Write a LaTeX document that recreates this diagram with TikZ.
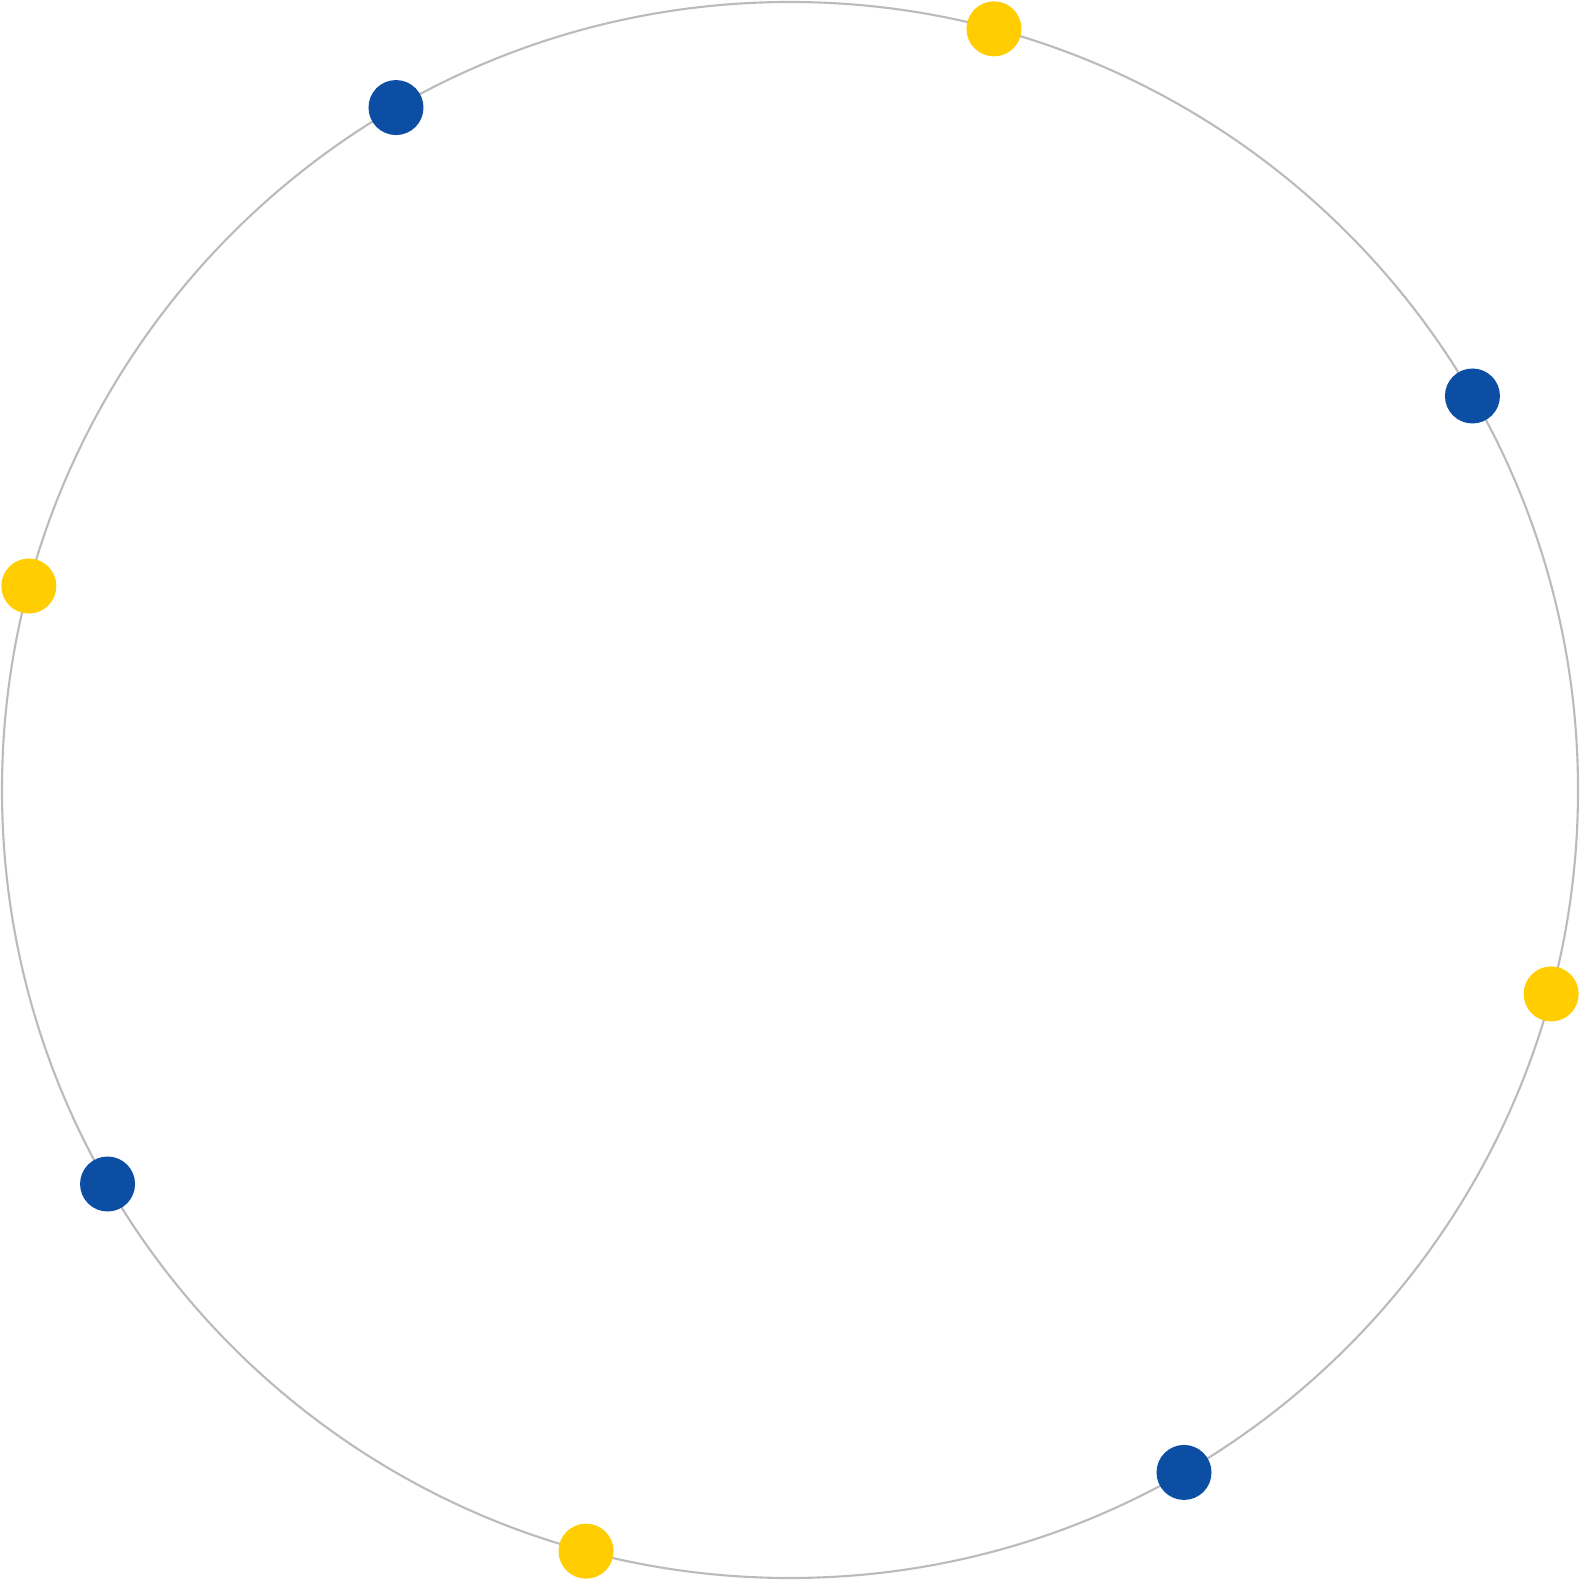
\documentclass[tikz,border=0pt]{standalone}
\definecolor{ringgray}{HTML}{BBBBBB}
\definecolor{dotblue}{HTML}{0B4EA3}
\definecolor{dotyellow}{HTML}{FFCD00}
\tikzset{
 dotnode/.style={circle,inner sep=0pt,minimum size=0.55cm},
 bluedot/.style={dotnode,fill=dotblue},
 yellowdot/.style={dotnode,fill=dotyellow},
}

\begin{document}
\begin{tikzpicture}
 \useasboundingbox (-7.9,-7.9) rectangle (7.9,7.9);
 \draw[ringgray,line width=0.6pt] (0,0) circle (7.88);
 \foreach \a in {30,120,210,300}
  \node[bluedot] (b\a) at (\a:7.88) {};
 \foreach \a in {75,165,255,345}
  \node[yellowdot] (y\a) at (\a:7.88) {};
\end{tikzpicture}
\end{document}
